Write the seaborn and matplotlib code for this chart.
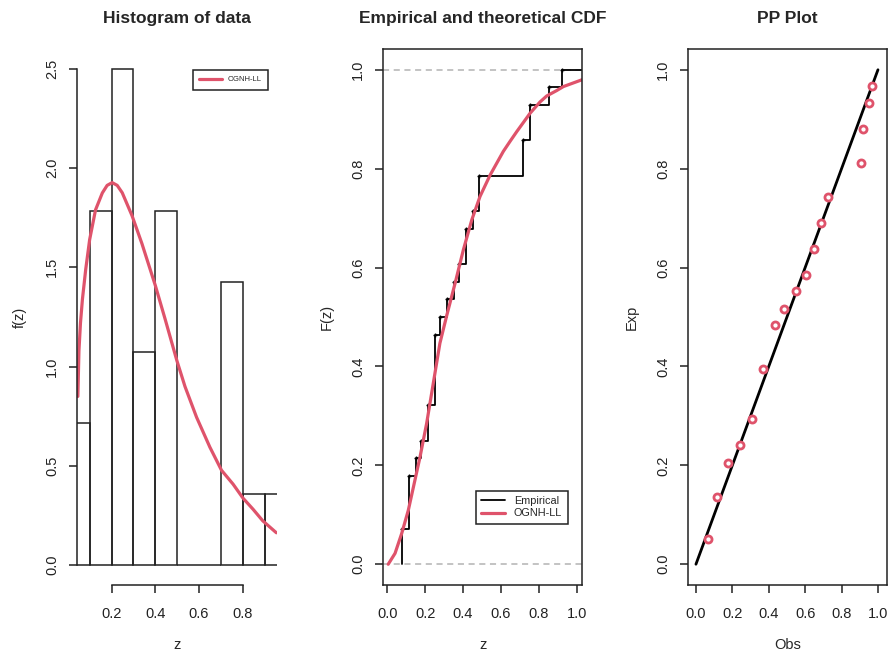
import numpy as np
import matplotlib
matplotlib.use("Agg")
import matplotlib.pyplot as plt
import seaborn as sns

# =====================================================
# DATA
# =====================================================

# sample (ECDF jump positions, repeated by jump size)
z_data = [0.076, 0.076, 0.115, 0.115, 0.115, 0.152, 0.176, 0.213, 0.213,
          0.252, 0.252, 0.252, 0.252, 0.278, 0.314, 0.352, 0.381, 0.414,
          0.414, 0.451, 0.484, 0.484, 0.717, 0.717, 0.754, 0.754, 0.856,
          0.923]
hist_bins = [0.0, 0.1, 0.2, 0.3, 0.4, 0.5, 0.6, 0.7, 0.8, 0.9, 1.0]

# fitted OGNH-LL density
dens_z = [0.046, 0.051, 0.058, 0.067, 0.082, 0.100, 0.127, 0.158, 0.180,
          0.203, 0.226, 0.249, 0.294, 0.339, 0.400, 0.445, 0.499, 0.536,
          0.589, 0.650, 0.703, 0.756, 0.801, 0.847, 0.892, 0.954]
dens_f = [0.85, 1.08, 1.22, 1.34, 1.49, 1.64, 1.79, 1.875, 1.913,
          1.927, 1.913, 1.876, 1.76, 1.62, 1.41, 1.24, 1.03, 0.90,
          0.745, 0.594, 0.478, 0.408, 0.338, 0.282, 0.223, 0.163]

# fitted OGNH-LL cdf
cdf_z = [0.005, 0.041, 0.076, 0.111, 0.138, 0.173, 0.208, 0.243, 0.278,
         0.314, 0.358, 0.402, 0.446, 0.490, 0.543, 0.613, 0.648, 0.684,
         0.754, 0.807, 0.842, 0.895, 0.930, 1.030]
cdf_F = [0.0, 0.022, 0.062, 0.109, 0.156, 0.217, 0.285, 0.366, 0.447,
         0.503, 0.568, 0.636, 0.696, 0.744, 0.787, 0.835, 0.855, 0.875,
         0.912, 0.935, 0.947, 0.958, 0.966, 0.980]

# PP plot
pp_obs = [0.068, 0.114, 0.178, 0.242, 0.310, 0.366, 0.432, 0.485, 0.548,
          0.603, 0.647, 0.687, 0.723, 0.907, 0.920, 0.952, 0.965]
pp_exp = [0.051, 0.136, 0.205, 0.241, 0.293, 0.395, 0.484, 0.516, 0.553,
          0.584, 0.638, 0.690, 0.742, 0.811, 0.880, 0.932, 0.968]
diag = [0.0, 1.0]

RED = "#DF536B"
GREY = "#B3B3B3"

# =====================================================
# STYLE
# =====================================================

sns.set_style("ticks")
plt.rcParams["font.family"] = ["Liberation Sans", "DejaVu Sans"]
plt.rcParams["axes.linewidth"] = 1.1
plt.rcParams["axes.edgecolor"] = "#222222"

W, H = 888, 654
fig = plt.figure(figsize=(W / 100, H / 100), dpi=100)


def add_ax(left_px, right_px):
    return fig.add_axes([left_px / W, (H - 585) / H,
                         (right_px - left_px) / W, 536 / H])


def style(ax, title, xlab, ylab, xticks, yticks):
    w_px = ax.get_position().width * W
    ax.set_xticks(xticks)
    ax.set_xticklabels([f"{t:.1f}" for t in xticks])
    ax.set_yticks(yticks)
    ax.set_yticklabels([f"{t:.1f}" for t in yticks])
    ax.tick_params(direction="out", length=6, width=1.1, labelsize=10.5,
                   colors="#222222", labelcolor="#222222")
    ax.tick_params(axis="x", pad=10)
    ax.tick_params(axis="y", pad=7)
    for lab in ax.get_yticklabels():
        lab.set_rotation(90)
        lab.set_va("center")
    ax.set_xlabel(xlab, fontsize=10.5)
    ax.set_ylabel(ylab, fontsize=10.5)
    ax.xaxis.set_label_coords(0.5, -53 / 536)
    ax.yaxis.set_label_coords(-50 / w_px, 0.5)
    ax.set_title(title, fontsize=12.5, fontweight="bold", y=1 + 26 / 536, pad=0)


# ------------------------------
# 1) Histogram + density
# ------------------------------

ax1 = add_ax(77, 277)
sns.histplot(x=z_data, bins=hist_bins, stat="density", fill=False,
             color="#222222", linewidth=1.1, ax=ax1)
sns.lineplot(x=dens_z, y=dens_f, sort=False, color=RED, linewidth=2.3,
             label="OGNH-LL", ax=ax1)
lo, hi = min(z_data), max(z_data)
ax1.set_xlim(lo - 0.04 * (hi - lo), hi + 0.04 * (hi - lo))
ax1.set_ylim(-0.1, 2.6)
sns.despine(ax=ax1)
ax1.spines["left"].set_bounds(0, 2.5)
ax1.spines["bottom"].set_bounds(0.2, 0.8)
style(ax1, "Histogram of data", "z", "f(z)",
      [0.2, 0.4, 0.6, 0.8], [0.0, 0.5, 1.0, 1.5, 2.0, 2.5])
leg = ax1.legend(loc="upper right", bbox_to_anchor=(0.975, 0.968),
                 fontsize=5.5, handlelength=3.0, fancybox=False,
                 edgecolor="#222222", framealpha=1, borderpad=0.8)
leg.get_frame().set_linewidth(1.1)

# ------------------------------
# 2) Empirical and theoretical CDF
# ------------------------------

ax2 = add_ax(383.3, 582.3)
ax2.axhline(0, color=GREY, ls=(0, (4, 3)), lw=1.1, zorder=1)
ax2.axhline(1, color=GREY, ls=(0, (4, 3)), lw=1.1, zorder=1)
sns.ecdfplot(x=z_data, color="black", linewidth=1.3, label="Empirical", ax=ax2)
ax2.plot([max(z_data), 1.1], [1, 1], color="black", lw=1.3)
vals, counts = np.unique(z_data, return_counts=True)
ax2.plot(vals, np.cumsum(counts) / len(z_data), ls="none", marker="+",
         ms=3.5, mew=1, color="black")
sns.lineplot(x=cdf_z, y=cdf_F, sort=False, color=RED, linewidth=2.3,
             label="OGNH-LL", ax=ax2)
ax2.set_xlim(-0.021, 1.03)
ax2.set_ylim(-0.042, 1.042)
style(ax2, "Empirical and theoretical CDF", "z", "F(z)",
      [0.0, 0.2, 0.4, 0.6, 0.8, 1.0], [0.0, 0.2, 0.4, 0.6, 0.8, 1.0])
leg = ax2.legend(loc="lower right", bbox_to_anchor=(0.953, 0.104),
                 fontsize=7.8, handlelength=2.2, fancybox=False,
                 edgecolor="#222222", framealpha=1, borderpad=0.5,
                 labelspacing=0.2)
leg.get_frame().set_linewidth(1.1)

# ------------------------------
# 3) PP plot
# ------------------------------

ax3 = add_ax(688.3, 886.7)
sns.lineplot(x=diag, y=diag, color="black", linewidth=2.0, ax=ax3)
sns.scatterplot(x=pp_obs, y=pp_exp, marker="o", s=26, facecolor="white",
                edgecolor=RED, linewidth=2.0, zorder=3, ax=ax3)
ax3.set_xlim(-0.042, 1.048)
ax3.set_ylim(-0.042, 1.042)
style(ax3, "PP Plot", "Obs", "Exp",
      [0.0, 0.2, 0.4, 0.6, 0.8, 1.0], [0.0, 0.2, 0.4, 0.6, 0.8, 1.0])

fig.savefig("out.png", dpi=100)
